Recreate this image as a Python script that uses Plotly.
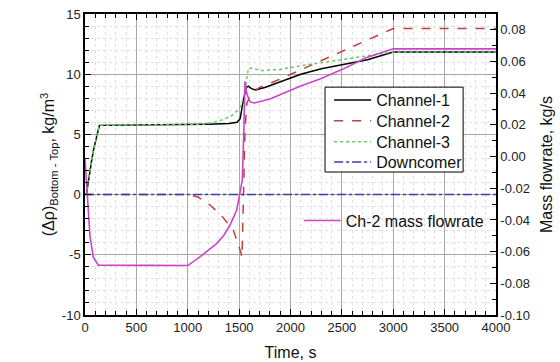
import plotly.graph_objects as go

# ---- data ----
t_ch1 = [0, 15, 65, 85, 140, 600, 1000, 1200, 1400, 1480, 1510, 1540, 1570, 1590, 1620, 1660, 1750, 1900, 2100, 2300, 2500, 2750, 3000, 4000]
y_ch1 = [0, 0.1, 2.85, 3.8, 5.75, 5.78, 5.8, 5.85, 5.9, 6.0, 6.3, 7.8, 8.9, 9.0, 8.8, 8.7, 8.9, 9.4, 10.0, 10.45, 10.8, 11.2, 11.85, 11.85]

t_ch2 = [0, 1000, 1100, 1200, 1314, 1443, 1515, 1528, 1540, 1557, 1575, 1620, 1700, 1900, 3000, 4000]
y_ch2 = [0, 0, -0.2, -0.75, -1.6, -2.95, -4.75, -5.2, -1.0, 5.3, 7.6, 8.4, 8.9, 9.6, 13.8, 13.8]

t_ch3 = [0, 15, 65, 85, 140, 600, 1000, 1150, 1300, 1420, 1500, 1550, 1590, 1620, 1720, 1900, 2100, 2300, 2500, 2840, 3000, 4000]
y_ch3 = [0, 0.1, 2.85, 3.8, 5.75, 5.78, 5.78, 5.85, 6.1, 6.5, 7.1, 8.2, 10.5, 10.5, 10.3, 10.4, 10.7, 10.95, 11.2, 11.65, 11.85, 11.85]

t_dc = [0, 4000]
y_dc = [0, 0]

t_flow = [0, 15, 32, 49, 81, 130, 600, 1000, 1119, 1200, 1281, 1350, 1411, 1476, 1508, 1531, 1545, 1557, 1575, 1606, 1650, 1800, 1898, 2093, 2287, 2500, 2742, 3000, 4000]
m_flow = [-0.0012, -0.0164, -0.0359, -0.0506, -0.0635, -0.0685, -0.0687, -0.0688, -0.0633, -0.059, -0.0549, -0.0498, -0.0433, -0.0339, -0.0232, -0.0149, 0.014, 0.0474, 0.0398, 0.0345, 0.0338, 0.0364, 0.0391, 0.0444, 0.049, 0.0549, 0.0626, 0.068, 0.068]

x_tickvals = [0, 500, 1000, 1500, 2000, 2500, 3000, 3500, 4000]
x_ticktext = ["0", "500", "1000", "1500", "2000", "2500", "3000", "3500", "4000"]
y_tickvals = [-10, -5, 0, 5, 10, 15]
y_ticktext = ["-10", "-5", "0", "5", "10", "15"]
y2_tickvals = [-0.10, -0.08, -0.06, -0.04, -0.02, 0.00, 0.02, 0.04, 0.06, 0.08]
y2_ticktext = ["-0.10", "-0.08", "-0.06", "-0.04", "-0.02", "0.00", "0.02", "0.04", "0.06", "0.08"]

FONT = "Liberation Sans, Arial, sans-serif"

fig = go.Figure()
fig.add_trace(go.Scatter(x=t_ch1, y=y_ch1, mode="lines", name="Channel-1",
                         line=dict(color="#000000", width=1.5), legend="legend"))
fig.add_trace(go.Scatter(x=t_ch2, y=y_ch2, mode="lines", name="Channel-2",
                         line=dict(color="#c43c3c", width=1.5, dash="dash"), legend="legend3"))
fig.add_trace(go.Scatter(x=t_ch3, y=y_ch3, mode="lines", name="Channel-3",
                         line=dict(color="#66cc66", width=1.5, dash="dot"), legend="legend4"))
fig.add_trace(go.Scatter(x=t_dc, y=y_dc, mode="lines", name="Downcomer",
                         line=dict(color="#3c3cb0", width=1.5, dash="dashdot"), legend="legend5"))
fig.add_trace(go.Scatter(x=t_flow, y=m_flow, mode="lines", name="Ch-2 mass flowrate",
                         line=dict(color="#cc44cc", width=1.6), yaxis="y2", legend="legend2"))

grid_major = "#a8a8a8"
grid_minor = "#e0e0e0"

leg_x = 0.594
def leg(yc):
    return dict(x=leg_x, y=yc, xanchor="left", yanchor="middle",
                bgcolor="rgba(0,0,0,0)", borderwidth=0,
                font=dict(size=16, family=FONT, color="#111111"), itemwidth=37)

fig.update_layout(
    width=560, height=362,
    margin=dict(l=85, r=64, t=14, b=47),
    paper_bgcolor="white", plot_bgcolor="white",
    font=dict(family=FONT, size=13, color="#222222"),
    xaxis=dict(
        range=[0, 4000], tickvals=x_tickvals, ticktext=x_ticktext, automargin=False,
        ticks="inside", ticklen=6, tickwidth=1, tickcolor="#000000",
        showline=True, linecolor="#000000", linewidth=1.5, mirror="ticks",
        showgrid=True, gridcolor=grid_major, gridwidth=1,
        zeroline=False,
        minor=dict(dtick=100, tick0=0, ticks="inside", ticklen=4, tickcolor="#000000",
                   showgrid=True, gridcolor=grid_minor, griddash="dot", gridwidth=1),
        title=dict(text="Time, s", font=dict(size=16, color="#111111"), standoff=12),
        tickfont=dict(size=13, color="#222222"),
    ),
    yaxis=dict(
        range=[-10, 15], tickvals=y_tickvals, ticktext=y_ticktext, automargin=False,
        ticks="inside", ticklen=6, tickcolor="#000000",
        showline=True, linecolor="#000000", linewidth=1.5,
        showgrid=True, gridcolor=grid_major, gridwidth=1,
        zeroline=False,
        minor=dict(dtick=1, tick0=0, ticks="inside", ticklen=4, tickcolor="#000000",
                   showgrid=True, gridcolor=grid_minor, griddash="dot", gridwidth=1),
        title=dict(text="(Δρ)<sub>Bottom - Top</sub>, kg/m<sup>3</sup>", font=dict(size=16, color="#111111"), standoff=3),
        tickfont=dict(size=13, color="#222222"),
    ),
    yaxis2=dict(
        overlaying="y", side="right", anchor="x", automargin=False,
        range=[-0.10, 0.09], tickvals=y2_tickvals, ticktext=y2_ticktext,
        ticks="inside", ticklen=6, tickcolor="#000000",
        showline=True, linecolor="#000000", linewidth=1.5,
        showgrid=False, zeroline=False,
        minor=dict(dtick=0.01, tick0=0, ticks="inside", ticklen=4, tickcolor="#000000", showgrid=False),
        title=dict(text="Mass flowrate, kg/s", font=dict(size=16, color="#111111"), standoff=12),
        tickfont=dict(size=13, color="#222222"),
    ),
    legend=leg(0.714),
    legend3=leg(0.645),
    legend4=leg(0.575),
    legend5=leg(0.508),
    legend2=dict(
        x=0.52, y=0.37, xanchor="left", yanchor="top",
        bgcolor="rgba(0,0,0,0)", borderwidth=0,
        font=dict(size=16, family=FONT, color="#111111"),
        itemwidth=37,
    ),
    showlegend=True,
    shapes=[dict(type="rect", xref="paper", yref="paper",
                 x0=0.584, x1=0.92, y0=0.475, y1=0.757,
                 fillcolor="white", line=dict(color="#000000", width=1), layer="above")],
)

fig.write_html("out.html")
